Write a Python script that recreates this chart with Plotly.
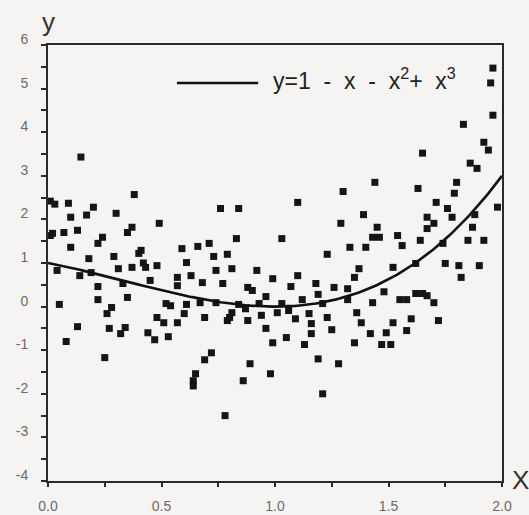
import numpy as np
import plotly.graph_objects as go

# ---- data ----
x_pts = [0.145, 0.38, 0.01, 0.03, 0.09, 0.20, 0.17, 0.10, 0.30, 0.01, 0.02, 0.07, 0.13, 0.24, 0.22,
         0.37, 0.35, 0.10, 0.29, 0.18, 0.40, 0.04, 0.14, 0.19, 0.31, 0.37, 0.33, 0.22, 0.35, 0.22,
         0.05, 0.28, 0.26, 0.13, 0.27, 0.34, 0.32, 0.08, 0.25,
         0.76, 0.49, 0.41, 0.42, 0.43, 0.48, 0.59, 0.66, 0.71, 0.73, 0.79, 0.61, 0.74, 0.63, 0.57,
         0.57, 0.68, 0.45, 0.77, 0.52, 0.54, 0.61, 0.67, 0.74, 0.60, 0.48, 0.51, 0.57, 0.69, 0.79,
         0.44, 0.47, 0.53, 0.72, 0.69, 0.65, 0.64, 0.64, 0.78,
         0.84, 1.10, 0.83, 1.03, 0.81, 0.92, 0.99, 1.10, 1.07, 1.18, 0.88, 0.90, 0.96, 0.84, 0.93,
         1.03, 1.12, 1.19, 0.81, 0.80, 0.87, 0.94, 1.01, 1.06, 1.15, 0.88, 1.09, 0.96, 1.16, 1.16,
         0.99, 1.05, 1.13, 1.19, 0.89, 0.86, 0.98, 1.21,
         1.44, 1.30, 1.39, 1.29, 1.45, 1.46, 1.43, 1.54, 1.56, 1.33, 1.40, 1.23, 1.37, 1.35, 1.52,
         1.26, 1.32, 1.21, 1.32, 1.48, 1.43, 1.55, 1.58, 1.23, 1.36, 1.38, 1.25, 1.52, 1.49, 1.42,
         1.58, 1.35, 1.47, 1.51, 1.28,
         1.96, 1.95, 1.96, 1.83, 1.92, 1.94, 1.86, 1.89, 1.65, 1.63, 1.80, 1.79, 1.98, 1.71, 1.76,
         1.78, 1.67, 1.70, 1.67, 1.88, 1.87, 1.64, 1.74, 1.85, 1.92, 1.62, 1.75, 1.81, 1.82, 1.90,
         1.62, 1.65, 1.67, 1.70, 1.60, 1.72]
y_pts = [3.43, 2.57, 2.42, 2.35, 2.37, 2.28, 2.10, 2.05, 2.14, 1.63, 1.68, 1.70, 1.75, 1.59, 1.45,
         1.82, 1.70, 1.36, 1.15, 1.10, 1.22, 0.83, 0.71, 0.78, 0.87, 0.90, 0.53, 0.46, 0.21, 0.16,
         0.05, -0.02, -0.16, -0.46, -0.50, -0.48, -0.62, -0.80, -1.17,
         2.25, 1.91, 1.29, 1.00, 0.90, 0.94, 1.33, 1.38, 1.45, 1.15, 1.20, 1.01, 0.83, 0.71, 0.67,
         0.48, 0.55, 0.60, 0.53, 0.07, 0.02, 0.05, 0.09, 0.09, -0.16, -0.25, -0.37, -0.37, -0.25, -0.32,
         -0.60, -0.76, -0.69, -1.06, -1.22, -1.54, -1.70, -1.82, -2.50,
         2.25, 2.39, 1.56, 1.56, 0.87, 0.83, 0.64, 0.71, 0.46, 0.53, 0.44, 0.37, 0.23, 0.05, 0.07,
         0.07, 0.16, 0.28, -0.14, -0.25, -0.05, -0.20, -0.14, -0.09, -0.16, -0.32, -0.28, -0.50, -0.39, -0.62,
         -0.83, -0.71, -0.87, -1.20, -1.31, -1.70, -1.54, -2.00,
         2.85, 2.64, 2.11, 1.91, 1.82, 1.59, 1.59, 1.63, 1.40, 1.36, 1.36, 1.20, 0.87, 0.67, 0.90,
         0.44, 0.41, 0.07, 0.16, 0.34, 0.09, 0.16, 0.16, -0.25, -0.14, -0.37, -0.53, -0.37, -0.60, -0.62,
         -0.55, -0.83, -0.87, -0.87, -1.31,
         5.47, 5.13, 4.39, 4.18, 3.77, 3.59, 3.29, 3.17, 3.52, 2.71, 2.85, 2.60, 2.28, 2.39, 2.25,
         2.05, 2.05, 1.91, 1.79, 2.11, 1.82, 1.52, 1.45, 1.52, 1.52, 0.99, 0.99, 0.94, 0.67, 0.94,
         0.30, 0.30, 0.25, 0.09, -0.28, -0.32]

# curve y = 1 - x - x^2 + x^3 (coefficients c0..c3)
coeffs = [1, -1, -1, 1]
SP = "&#160;&#160;"
curve_label = f"y=1{SP}-{SP}x{SP}-{SP}x<sup>2</sup>+{SP}x<sup>3</sup>"

y_tickvals = [-4, -3, -2, -1, 0, 1, 2, 3, 4, 5, 6]
y_ticktext = ["-4", "-3", "-2", "-1", "0", "1", "2", "3", "4", "5", "6"]
x_tickvals = [0.0, 0.5, 1.0, 1.5, 2.0]
x_ticktext = ["0.0", "0.5", "1.0", "1.5", "2.0"]

xc = np.linspace(0, 2, 201)
yc = sum(c * xc ** i for i, c in enumerate(coeffs))

BG = "#f6f3f3"
AX = "#2a2a2a"
FONT = "Liberation Sans, Arial, sans-serif"
TICKFONT = dict(family=FONT, size=14, color="#6a6a6a")

fig = go.Figure()
fig.add_trace(go.Scatter(x=x_pts, y=y_pts, mode="markers",
                         marker=dict(symbol="square", size=7, color="#151515",
                                     line=dict(width=0)),
                         showlegend=False))
fig.add_trace(go.Scatter(x=xc, y=yc, mode="lines",
                         line=dict(color="#111111", width=2.6),
                         showlegend=False))

fig.update_layout(
    width=529, height=515,
    margin=dict(l=48, r=27, t=45, b=34, autoexpand=False),
    paper_bgcolor=BG, plot_bgcolor=BG,
    showlegend=False,
)
fig.update_xaxes(range=[0, 2], tickvals=x_tickvals, ticktext=x_ticktext, automargin=False,
                 ticks="outside", ticklen=4, tickwidth=1.5, tickcolor=AX,
                 minor=dict(dtick=0.25, tick0=0, ticks="outside", ticklen=4, tickwidth=1.5, tickcolor=AX),
                 showline=True, linecolor=AX, linewidth=2, mirror=True,
                 showgrid=False, zeroline=False, tickfont=TICKFONT,
                 ticklabelstandoff=7)
fig.update_yaxes(range=[-4, 6], tickvals=y_tickvals, ticktext=y_ticktext, automargin=False,
                 ticks="outside", ticklen=5, tickwidth=1.5, tickcolor=AX,
                 minor=dict(dtick=0.5, tick0=0, ticks="outside", ticklen=5, tickwidth=1.5, tickcolor=AX),
                 showline=True, linecolor=AX, linewidth=2, mirror=True,
                 showgrid=False, zeroline=False, tickfont=TICKFONT,
                 ticklabelstandoff=10, ticklabelshift=-6)

# legend sample line and label
fig.add_shape(type="line", xref="paper", yref="paper", x0=0.284, x1=0.463, y0=0.913, y1=0.913,
              line=dict(color="#111111", width=2.6))
fig.add_annotation(xref="paper", yref="paper", x=0.492, y=0.913, xanchor="left", yanchor="middle",
                   yshift=4, text=curve_label, showarrow=False,
                   font=dict(family=FONT, size=23, color="#222222"))
# axis titles
fig.add_annotation(xref="paper", yref="paper", x=0.0, y=1.0, xanchor="center", yanchor="bottom",
                   yshift=6, text="y", showarrow=False,
                   font=dict(family=FONT, size=26, color="#333333"))
fig.add_annotation(xref="paper", yref="paper", x=1.0, y=0.0, xanchor="left", yanchor="bottom",
                   xshift=8, yshift=-16, text="X", showarrow=False,
                   font=dict(family=FONT, size=26, color="#333333"))

fig.write_html("out.html")
